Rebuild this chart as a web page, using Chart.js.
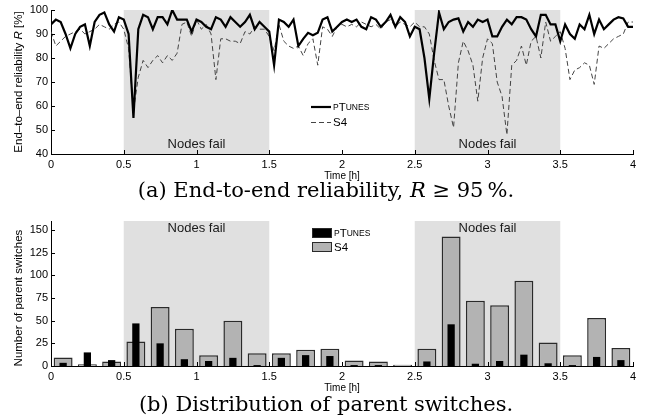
<!DOCTYPE html>
<html>
<head>
<meta charset="utf-8">
<script src="https://cdn.jsdelivr.net/npm/chart.js@4.4.1/dist/chart.umd.min.js"></script>
<style>
body { margin: 0; width: 651px; height: 420px; background: #fff; position: relative; overflow: hidden; }
canvas { position: absolute; left: 0; }
#relChart { top: 0; }
#switchChart { top: 205px; }
.cap { position: absolute; left: 0; width: 652px; text-align: center; font-family: "DejaVu Serif", serif; font-size: 21px; line-height: 24px; color: #000; }
</style>
</head>
<body>
<canvas id="relChart" width="651" height="182"></canvas>
<canvas id="switchChart" width="651" height="189"></canvas>
<div class="cap" style="top:178px">(a) End-to-end reliability, <i>R</i> &ge; 95&thinsp;%.</div>
<div class="cap" style="top:392px">(b) Distribution of parent switches.</div>
<script>
// ---- data ----
// end-to-end reliability [%], one sample every 2 minutes from 0 to 4 h
var sampleMinutes = 2;
var relPtunes = [94, 96, 95, 90, 84, 90, 93, 94, 85, 95,
    98, 99, 94, 91, 97, 96, 90, 55, 92, 98,
    97, 92, 97, 97, 94, 100, 96, 96, 96, 91,
    96, 95, 93, 92, 97, 96, 93, 97, 95, 93,
    95, 98, 92, 95, 93, 91, 77, 96, 95, 93,
    96, 85, 88, 90.5, 89.5, 90.5, 96, 97, 91, 93,
    95, 96, 95, 96, 93, 92, 97, 96, 93, 95,
    98, 93, 97, 95, 89, 93, 92, 80, 63, 82,
    99, 92, 95, 96, 96.5, 91, 95, 93, 96, 95,
    96, 89, 89, 93, 96, 94, 97, 97, 96, 92,
    89, 98, 98, 94, 94, 87, 94, 90, 88, 94,
    92, 98, 90, 96, 92, 94, 96, 97, 96.5, 93,
    93];
var relS4 = [91, 85, 87, 89, 90, 91, 92, 90, 91, 92,
    94, 93, 92, 94, 95, 92, 84, 58, 72, 79,
    76, 79, 81, 78, 81, 79, 82, 94, 95, 89,
    96, 92, 94, 90, 71, 88, 88, 87, 87, 86,
    91, 90, 93, 92, 92, 89, 83, 94, 87, 85,
    84, 85, 81, 86, 88, 77, 93, 92, 89, 93,
    94, 93, 94, 93, 95, 94, 93, 94, 92, 95,
    96, 93, 95, 94, 93, 95, 93, 93, 90, 79,
    71, 71, 60, 51, 78, 87, 83, 77, 62, 80,
    88, 86, 70, 64, 48, 77, 79, 85, 77, 87,
    89, 80, 95, 87, 89, 91, 84, 71, 75, 76,
    78, 77, 69, 85, 84, 86, 88, 89, 90, 95,
    95];

// parent switches per 10 minute bin
var binMinutes = 10;
var switchPtunes = [3.5, 15, 6.5, 47, 25, 7.5, 5.5, 9, 1, 9, 12, 11,
    1, 1, 0, 5, 46, 2.5, 5.5, 12.5, 3, 1, 10, 6.5];
var switchS4 = [9.5, 2, 5, 27, 65, 41, 12, 50, 14, 14, 18, 19,
    6, 5, 1.5, 19, 143, 72, 67, 94, 26, 12, 53, 20];

// periods where nodes were switched off [h]
var failStart = [0.5, 2.5];
var failEnd = [1.5, 3.5];

var FONT = '"Liberation Sans", Arial, sans-serif';

function timeSeries(vals) {
    return vals.map(function (v, i) { return {x: i * sampleMinutes / 60, y: v}; });
}
function binSeries(vals) {
    return vals.map(function (v, i) { return {x: (i + 0.5) * binMinutes / 60, y: v}; });
}

// ---- plugins ----
var failShade = {
    id: 'failShade',
    beforeDraw: function (chart, args, opts) {
        var ctx = chart.ctx, a = chart.chartArea;
        var xs = chart.scales.x, ys = chart.scales.y;
        ctx.save();
        for (var k = 0; k < failStart.length; k++) {
            var x0 = xs.getPixelForValue(failStart[k]), x1 = xs.getPixelForValue(failEnd[k]);
            var top = ys.getPixelForValue(ys.max);
            ctx.fillStyle = '#e0e0e0';
            ctx.fillRect(x0, top, x1 - x0, a.bottom - top);
            ctx.fillStyle = '#1a1a1a';
            ctx.font = '13px ' + FONT;
            ctx.textAlign = 'center';
            ctx.textBaseline = 'middle';
            ctx.fillText('Nodes fail', (x0 + x1) / 2, ys.getPixelForValue(opts.labelAt));
        }
        ctx.restore();
    }
};

// tick marks pointing into the plot
var inTicks = {
    id: 'inTicks',
    afterDraw: function (chart) {
        var ctx = chart.ctx, a = chart.chartArea;
        var xs = chart.scales.x, ys = chart.scales.y;
        ctx.save();
        ctx.strokeStyle = '#000';
        ctx.lineWidth = 1;
        ctx.beginPath();
        xs.ticks.forEach(function (t) {
            var px = Math.round(xs.getPixelForValue(t.value)) + 0.5;
            ctx.moveTo(px, a.bottom);
            ctx.lineTo(px, a.bottom - 4);
        });
        ys.ticks.forEach(function (t) {
            var py = Math.round(ys.getPixelForValue(t.value)) + 0.5;
            ctx.moveTo(a.left, py);
            ctx.lineTo(a.left + 4, py);
        });
        ctx.stroke();
        ctx.restore();
    }
};

// lower case letters drawn as small caps, like the pTunes label
function drawSmallCaps(ctx, text, x, y, size) {
    for (var i = 0; i < text.length; i++) {
        var c = text[i];
        var small = c !== c.toUpperCase();
        ctx.font = (small ? size * 0.74 : size) + 'px ' + FONT;
        c = c.toUpperCase();
        ctx.fillText(c, x, y);
        x += ctx.measureText(c).width;
    }
}

var keyBox = {
    id: 'keyBox',
    afterDraw: function (chart, args, opts) {
        var ctx = chart.ctx;
        ctx.save();
        chart.data.datasets.forEach(function (ds, i) {
            var y = opts.y + i * opts.gap;
            if (opts.kind === 'line') {
                ctx.strokeStyle = ds.borderColor;
                ctx.lineWidth = ds.borderWidth;
                ctx.setLineDash(ds.borderDash || []);
                ctx.beginPath();
                ctx.moveTo(opts.x, y);
                ctx.lineTo(opts.x + 20, y);
                ctx.stroke();
                ctx.setLineDash([]);
            } else {
                ctx.fillStyle = ds.backgroundColor;
                ctx.fillRect(opts.x, y - 5, 20, 10);
                ctx.strokeStyle = '#2a2a2a';
                ctx.lineWidth = 1;
                ctx.strokeRect(opts.x + 0.5, y - 4.5, 19, 9);
            }
            ctx.fillStyle = '#000';
            ctx.textBaseline = 'middle';
            ctx.textAlign = 'left';
            drawSmallCaps(ctx, ds.label, opts.x + 22, y + 0.5, 11.5);
        });
        ctx.restore();
    }
};

var yTitle = {
    id: 'yTitle',
    afterDraw: function (chart, args, opts) {
        var ctx = chart.ctx, ys = chart.scales.y;
        var mid = (ys.getPixelForValue(opts.from) + ys.getPixelForValue(opts.to)) / 2;
        ctx.save();
        ctx.translate(opts.x, mid);
        ctx.rotate(-Math.PI / 2);
        ctx.fillStyle = '#000';
        ctx.textBaseline = 'middle';
        ctx.textAlign = 'left';
        var total = 0;
        opts.parts.forEach(function (p) {
            ctx.font = (p[1] ? 'italic ' : '') + '11.5px ' + FONT;
            total += ctx.measureText(p[0]).width;
        });
        var x = -total / 2;
        opts.parts.forEach(function (p) {
            ctx.font = (p[1] ? 'italic ' : '') + '11.5px ' + FONT;
            ctx.fillText(p[0], x, 0);
            x += ctx.measureText(p[0]).width;
        });
        ctx.restore();
    }
};

function axisX(extraHeight) {
    return {
        type: 'linear', min: 0, max: 4, offset: false,
        ticks: {stepSize: 0.5, color: '#000', padding: 4, maxRotation: 0, font: {family: FONT, size: 11},
            callback: function (v) { return String(v); }},
        grid: {display: false, drawTicks: false},
        border: {display: true, color: '#000', width: 1},
        title: {display: true, text: 'Time [h]', color: '#000', padding: 0, font: {family: FONT, size: 10}},
        afterFit: function (s) { s.height = extraHeight; }
    };
}
function axisY(min, max, step) {
    return {
        min: min, max: max,
        ticks: {stepSize: step, color: '#000', padding: 3, includeBounds: false, font: {family: FONT, size: 11}},
        grid: {display: false, drawTicks: false},
        border: {display: true, color: '#000', width: 1},
        afterFit: function (s) { s.width = 51; }
    };
}

// ---- (a) reliability ----
new Chart(document.getElementById('relChart'), {
    type: 'line',
    data: {
        datasets: [
            {label: 'pTunes', data: timeSeries(relPtunes), borderColor: '#000', borderWidth: 2.2,
                pointRadius: 0, tension: 0},
            {label: 'S4', data: timeSeries(relS4), borderColor: '#444', borderWidth: 1, borderDash: [5, 3],
                pointRadius: 0, tension: 0}
        ]
    },
    options: {
        responsive: false,
        animation: false,
        layout: {padding: {top: 10, right: 18, left: 0, bottom: 0}},
        scales: {x: axisX(28), y: axisY(40, 100, 10)},
        plugins: {
            legend: {display: false},
            tooltip: {enabled: false},
            failShade: {labelAt: 44},
            keyBox: {kind: 'line', x: 311, y: 107, gap: 15.5},
            yTitle: {x: 19, from: 40, to: 100, parts: [['End\u2013to\u2013end reliability ', false], ['R', true], [' [%]', false]]}
        }
    },
    plugins: [failShade, inTicks, keyBox, yTitle]
});

// ---- (b) parent switches ----
new Chart(document.getElementById('switchChart'), {
    type: 'bar',
    data: {
        datasets: [
            {label: 'pTunes', data: binSeries(switchPtunes), backgroundColor: '#000', borderWidth: 0,
                grouped: false, categoryPercentage: 1, barPercentage: 0.3},
            {label: 'S4', data: binSeries(switchS4), backgroundColor: '#b3b3b3', borderColor: '#2a2a2a',
                borderWidth: 1.5, grouped: false, categoryPercentage: 1, barPercentage: 0.78}
        ]
    },
    options: {
        responsive: false,
        animation: false,
        layout: {padding: {top: 16, right: 18, left: 0, bottom: 0}},
        scales: {x: axisX(28), y: axisY(0, 160, 25)},
        plugins: {
            legend: {display: false},
            tooltip: {enabled: false},
            failShade: {labelAt: 151.5},
            keyBox: {kind: 'box', x: 312, y: 28, gap: 14},
            yTitle: {x: 19, from: 0, to: 150, parts: [['Number of parent switches', false]]}
        }
    },
    plugins: [failShade, inTicks, keyBox, yTitle]
});
</script>
</body>
</html>
